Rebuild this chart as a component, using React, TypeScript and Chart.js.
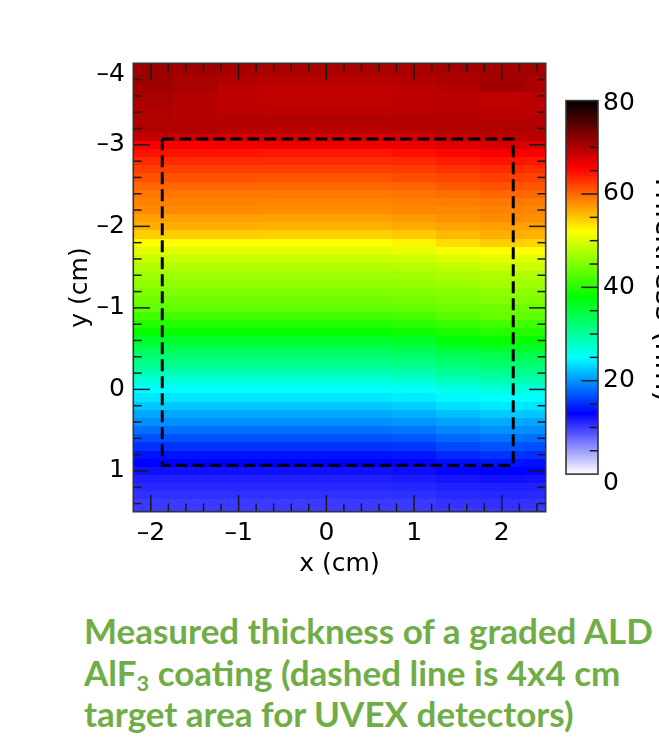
import React, { useEffect, useRef } from "react";
import { Chart, registerables } from "chart.js";

Chart.register(...registerables);

// ---------------- data ----------------
const xCenters = [-2, -1.5, -1, -0.5, 0, 0.5, 1, 1.5, 2, 2.5];
const yCenters = [
  -4.0, -3.9, -3.8, -3.7, -3.6, -3.5, -3.4, -3.3, -3.2, -3.1,
  -3.0, -2.9, -2.8, -2.7, -2.6, -2.5, -2.4, -2.3, -2.2, -2.1,
  -2.0, -1.9, -1.8, -1.7, -1.6, -1.5, -1.4, -1.3, -1.2, -1.1,
  -1.0, -0.9, -0.8, -0.7, -0.6, -0.5, -0.4, -0.3, -0.2, -0.1,
  0.0, 0.1, 0.2, 0.3, 0.4, 0.5, 0.6, 0.7, 0.8, 0.9,
  1.0, 1.1, 1.2, 1.3, 1.4, 1.5,
];
// thickness (nm), one row per yCenters entry, one column per xCenters entry
const thickness = [
  [71.0, 71.0, 70.6, 70.4, 70.4, 70.4, 70.4, 70.6, 70.6, 70.6],
  [71.0, 70.8, 70.4, 70.4, 70.4, 70.4, 70.3, 70.5, 70.6, 70.6],
  [71.0, 70.5, 69.8, 69.5, 69.5, 69.6, 69.8, 70.2, 70.8, 70.2],
  [70.8, 70.2, 69.3, 69.1, 69.1, 69.1, 69.3, 69.8, 70.8, 70.2],
  [70.5, 69.8, 69.1, 69.0, 69.0, 69.0, 69.2, 69.4, 69.2, 69.3],
  [70.2, 69.5, 69.1, 69.0, 69.0, 69.0, 69.2, 69.3, 69.0, 69.2],
  [70.0, 69.5, 69.4, 69.3, 69.3, 69.3, 69.4, 69.5, 69.3, 69.4],
  [70.0, 69.8, 69.8, 69.8, 69.8, 69.8, 69.8, 69.8, 69.6, 69.7],
  [70.0, 70.0, 69.6, 69.5, 69.5, 69.5, 69.6, 69.8, 69.8, 69.8],
  [69.0, 68.5, 68.3, 68.1, 68.1, 68.2, 68.4, 69.0, 69.3, 69.5],
  [65.8, 66.0, 66.3, 66.4, 66.4, 66.4, 66.6, 67.2, 67.8, 67.5],
  [64.6, 64.6, 64.5, 64.4, 64.4, 64.4, 64.7, 65.3, 65.9, 65.7],
  [63.3, 63.3, 63.3, 63.2, 63.2, 63.2, 63.5, 64.0, 64.5, 64.3],
  [62.2, 62.2, 62.2, 62.1, 62.1, 62.1, 62.4, 62.9, 63.3, 63.1],
  [61.2, 61.2, 61.2, 61.1, 61.1, 61.1, 61.4, 61.8, 62.2, 62.0],
  [60.1, 60.1, 60.1, 60.0, 60.0, 60.0, 60.3, 60.8, 61.2, 61.0],
  [59.2, 59.2, 59.2, 59.1, 59.1, 59.1, 59.4, 59.7, 60.1, 59.9],
  [58.6, 58.6, 58.6, 58.5, 58.5, 58.5, 58.8, 58.9, 59.2, 59.0],
  [58.2, 58.2, 58.2, 58.1, 58.1, 58.1, 58.4, 58.4, 58.6, 58.4],
  [57.1, 57.1, 57.1, 57.0, 57.0, 57.0, 57.3, 57.8, 58.2, 58.0],
  [56.3, 56.3, 56.3, 56.2, 56.2, 56.2, 56.5, 56.8, 57.1, 56.9],
  [54.6, 54.6, 54.6, 54.5, 54.5, 54.5, 54.8, 55.7, 56.3, 56.1],
  [52.0, 52.0, 52.0, 52.0, 52.0, 52.0, 52.6, 53.8, 54.6, 54.3],
  [50.3, 50.3, 50.3, 50.3, 50.3, 50.3, 50.7, 51.5, 52.1, 51.8],
  [49.0, 49.0, 49.0, 49.0, 49.0, 49.0, 49.3, 50.0, 50.4, 50.2],
  [47.7, 47.7, 47.7, 47.7, 47.7, 47.7, 48.0, 48.6, 49.1, 48.9],
  [46.8, 46.8, 46.8, 46.8, 46.8, 46.8, 47.0, 47.5, 47.8, 47.6],
  [45.9, 45.9, 45.9, 45.9, 45.9, 45.9, 46.1, 46.5, 46.9, 46.7],
  [45.0, 45.0, 45.0, 45.0, 45.0, 45.0, 45.2, 45.6, 46.0, 45.8],
  [44.1, 44.1, 44.1, 44.1, 44.1, 44.1, 44.3, 44.7, 45.1, 44.9],
  [43.3, 43.3, 43.3, 43.3, 43.3, 43.3, 43.5, 43.9, 44.2, 44.0],
  [41.5, 41.5, 41.5, 41.5, 41.5, 41.5, 41.8, 42.8, 43.4, 43.2],
  [40.0, 40.0, 40.0, 40.0, 40.0, 40.0, 40.3, 41.1, 41.6, 41.4],
  [38.3, 38.3, 38.3, 38.3, 38.3, 38.3, 38.6, 39.5, 40.1, 39.9],
  [35.8, 35.8, 35.8, 35.8, 35.8, 35.8, 36.2, 37.6, 38.4, 38.2],
  [33.8, 33.8, 33.8, 33.8, 33.8, 33.8, 34.1, 35.2, 35.9, 35.7],
  [32.2, 32.2, 32.2, 32.2, 32.2, 32.2, 32.5, 33.3, 33.9, 33.7],
  [30.6, 30.6, 30.6, 30.6, 30.6, 30.6, 30.9, 31.7, 32.3, 32.1],
  [28.8, 28.8, 28.8, 28.8, 28.8, 28.8, 29.1, 30.1, 30.7, 30.5],
  [26.8, 26.8, 26.8, 26.8, 26.8, 26.8, 27.1, 28.2, 28.9, 28.7],
  [25.0, 25.0, 25.0, 25.0, 25.0, 25.0, 25.3, 26.3, 26.9, 26.7],
  [23.9, 23.9, 23.9, 23.9, 23.9, 23.9, 24.1, 24.7, 25.1, 24.9],
  [22.4, 22.4, 22.4, 22.4, 22.4, 22.4, 22.7, 23.5, 24.0, 23.8],
  [20.9, 20.9, 20.9, 20.9, 20.9, 20.9, 21.2, 22.0, 22.5, 22.3],
  [19.8, 19.8, 19.8, 19.8, 19.8, 19.8, 20.0, 20.6, 21.0, 20.8],
  [18.3, 18.3, 18.3, 18.3, 18.3, 18.3, 18.6, 19.4, 19.9, 19.7],
  [16.8, 16.8, 16.8, 16.8, 16.8, 16.8, 17.1, 17.9, 18.4, 18.2],
  [15.3, 15.3, 15.3, 15.3, 15.3, 15.3, 15.6, 16.4, 16.9, 16.7],
  [13.8, 13.8, 13.8, 13.8, 13.8, 13.8, 14.1, 14.9, 15.4, 15.2],
  [13.0, 13.0, 13.0, 13.0, 13.0, 13.0, 13.2, 13.6, 13.9, 13.7],
  [12.2, 12.2, 12.2, 12.2, 12.2, 12.2, 12.4, 12.8, 13.0, 12.9],
  [11.4, 11.4, 11.4, 11.4, 11.4, 11.4, 11.6, 12.0, 12.2, 12.1],
  [11.0, 11.0, 11.0, 11.0, 11.0, 11.0, 11.1, 11.3, 11.4, 11.3],
  [10.5, 10.5, 10.5, 10.5, 10.5, 10.5, 10.6, 10.9, 11.0, 10.9],
  [10.0, 10.0, 10.0, 10.0, 10.0, 10.0, 10.1, 10.4, 10.5, 10.4],
  [10.0, 10.0, 10.0, 10.0, 10.0, 10.0, 10.0, 10.1, 10.2, 10.1],
];
const xTickValues = [-2, -1, 0, 1, 2];
const yTickValues = [-4, -3, -2, -1, 0, 1];
const cbarTickValues = [0, 20, 40, 60, 80];
const xRange = [-2.2, 2.5];
const yRange = [-4, 1.5];
const cbarRange = [0, 80];
const targetBoxX = [-1.87, 2.13];
const targetBoxY = [-3.07, 0.93];

// ---------------- style ----------------
const FONT = "'DejaVu Sans', sans-serif";
const TICK_SIZE = 25;
const CELL_W = 0.5;
const CELL_H = 0.1;
const X_MINOR = 0.2;
const Y_MINOR = 0.2;
const CB_MINOR = 5;
const MAJOR_LEN = 16.7;
const MINOR_LEN = 8.3;
const CANVAS_W = 690;
const CANVAS_H = 600;
const PLOT_TOP = 41.9;
const PLOT_LEFT = 133.3;
const PLOT_RIGHT = 545.7;
const PLOT_BOTTOM = 511.7;
const CB_GAP = 20.3;
const CB_W = 32;
const CB_TOP_PX = 81;
const CB_BOT_PX = 472.3;

const cmapStops: [number, number, number, number][] = [
  [0, 255, 255, 255],
  [13, 0, 0, 255],
  [25, 0, 255, 255],
  [38, 0, 255, 0],
  [52, 255, 255, 0],
  [65.5, 255, 0, 0],
  [80, 0, 0, 0],
];

function colorFor(v: number): string {
  const t = Math.max(cmapStops[0][0], Math.min(cmapStops[cmapStops.length - 1][0], v));
  for (let i = 0; i < cmapStops.length - 1; i++) {
    const a = cmapStops[i];
    const b = cmapStops[i + 1];
    if (t >= a[0] && t <= b[0]) {
      const f = (t - a[0]) / (b[0] - a[0]);
      const r = Math.round(a[1] + (b[1] - a[1]) * f);
      const g = Math.round(a[2] + (b[2] - a[2]) * f);
      const bl = Math.round(a[3] + (b[3] - a[3]) * f);
      return `rgb(${r},${g},${bl})`;
    }
  }
  return "rgb(0,0,0)";
}

function buildTicks(min: number, max: number, step: number) {
  const out: { value: number }[] = [];
  const i0 = Math.ceil(min / step - 1e-9);
  const i1 = Math.floor(max / step + 1e-9);
  for (let i = i0; i <= i1; i++) out.push({ value: Math.round(i * step * 1e6) / 1e6 });
  return out;
}

const fmt = (v: number) => (v < 0 ? "\u2013" + Math.abs(v) : String(v));

const heatmapPlugin = {
  id: "heatmap",
  beforeDatasetsDraw(chart: any) {
    const { ctx, chartArea: a, scales } = chart;
    const xs = scales.x;
    const ys = scales.y;
    ctx.save();
    ctx.beginPath();
    ctx.rect(a.left, a.top, a.right - a.left, a.bottom - a.top);
    ctx.clip();
    for (let r = 0; r < yCenters.length; r++) {
      const yA = Math.round(ys.getPixelForValue(yCenters[r] - CELL_H / 2));
      const yB = Math.round(ys.getPixelForValue(yCenters[r] + CELL_H / 2));
      for (let c = 0; c < xCenters.length; c++) {
        const xA = Math.round(xs.getPixelForValue(xCenters[c] - CELL_W / 2));
        const xB = Math.round(xs.getPixelForValue(xCenters[c] + CELL_W / 2));
        ctx.fillStyle = colorFor(thickness[r][c]);
        ctx.fillRect(Math.min(xA, xB), Math.min(yA, yB), Math.abs(xB - xA), Math.abs(yB - yA));
      }
    }
    ctx.restore();

    // colour bar
    const cb = scales.cbar;
    const left = a.right + CB_GAP;
    const top = cb.getPixelForValue(cbarRange[1]);
    const bot = cb.getPixelForValue(cbarRange[0]);
    ctx.save();
    ctx.beginPath();
    ctx.rect(left, top, CB_W, bot - top);
    ctx.clip();
    for (let py = Math.floor(top); py < Math.ceil(bot); py++) {
      ctx.fillStyle = colorFor(cb.getValueForPixel(py + 0.5));
      ctx.fillRect(left, py, CB_W, 1);
    }
    ctx.restore();
  },
};

const framePlugin = {
  id: "frame",
  afterDatasetsDraw(chart: any) {
    const { ctx, chartArea: a, scales } = chart;
    const line = (x1: number, y1: number, x2: number, y2: number) => {
      ctx.beginPath();
      ctx.moveTo(x1, y1);
      ctx.lineTo(x2, y2);
      ctx.stroke();
    };
    ctx.save();
    ctx.strokeStyle = "#1a1a1a";
    ctx.lineWidth = 1.5;
    for (const t of scales.x.ticks) {
      const px = scales.x.getPixelForValue(t.value);
      if (px < a.left + 1 || px > a.right - 1) continue;
      const len = xTickValues.includes(t.value) ? MAJOR_LEN : MINOR_LEN;
      line(px, a.bottom, px, a.bottom - len);
      line(px, a.top, px, a.top + len);
    }
    for (const t of scales.y.ticks) {
      const py = scales.y.getPixelForValue(t.value);
      if (py < a.top + 1 || py > a.bottom - 1) continue;
      const len = yTickValues.includes(t.value) ? MAJOR_LEN : MINOR_LEN;
      line(a.left, py, a.left + len, py);
      line(a.right, py, a.right - len, py);
    }
    const cb = scales.cbar;
    const cbLeft = a.right + CB_GAP;
    const cbRight = cbLeft + CB_W;
    const cbTop = cb.getPixelForValue(cbarRange[1]);
    const cbBot = cb.getPixelForValue(cbarRange[0]);
    for (const t of cb.ticks) {
      const py = cb.getPixelForValue(t.value);
      if (py < cbTop + 1 || py > cbBot - 1) continue;
      const len = cbarTickValues.includes(t.value) ? MAJOR_LEN : MINOR_LEN;
      line(cbRight, py, cbRight - len, py);
    }
    ctx.strokeStyle = "#333";
    ctx.lineWidth = 1.6;
    ctx.strokeRect(a.left, a.top, a.right - a.left, a.bottom - a.top);
    ctx.strokeRect(cbLeft, cbTop, CB_W, cbBot - cbTop);
    ctx.restore();
  },
};

export default function App() {
  const canvasRef = useRef<HTMLCanvasElement | null>(null);

  useEffect(() => {
    const canvas = canvasRef.current;
    if (!canvas) return;
    const cbUnit = (CB_BOT_PX - CB_TOP_PX) / (cbarRange[1] - cbarRange[0]);
    const cbMax = cbarRange[1] + (CB_TOP_PX - PLOT_TOP) / cbUnit;
    const cbMin = cbarRange[0] - (PLOT_BOTTOM - CB_BOT_PX) / cbUnit;

    const tickFont = (size: number, special: Record<string, number>) => (c: any) => {
      const v = c && c.tick ? c.tick.value : null;
      const lh = v !== null && special[String(v)] !== undefined ? special[String(v)] / size : 1.2;
      return { family: FONT, size, lineHeight: lh };
    };
    const half = (TICK_SIZE * 1.2) / 2;

    const chart = new Chart(canvas, {
      type: "scatter",
      data: {
        datasets: [
          {
            data: [
              { x: targetBoxX[0], y: targetBoxY[0] },
              { x: targetBoxX[1], y: targetBoxY[0] },
              { x: targetBoxX[1], y: targetBoxY[1] },
              { x: targetBoxX[0], y: targetBoxY[1] },
              { x: targetBoxX[0], y: targetBoxY[0] },
            ],
            showLine: true,
            borderColor: "#000",
            borderWidth: 3,
            borderDash: [12, 5],
            pointRadius: 0,
            pointHoverRadius: 0,
            fill: false,
            tension: 0,
            xAxisID: "x",
            yAxisID: "y",
          } as any,
        ],
      },
      options: {
        animation: false,
        responsive: false,
        maintainAspectRatio: false,
        events: [],
        layout: { padding: { top: PLOT_TOP, left: 0, right: 0, bottom: 0 } },
        plugins: { legend: { display: false }, tooltip: { enabled: false } },
        scales: {
          x: {
            type: "linear",
            position: "bottom",
            min: xRange[0],
            max: xRange[1],
            afterBuildTicks: (s: any) => {
              s.ticks = buildTicks(xRange[0], xRange[1], X_MINOR);
            },
            afterFit: (s: any) => {
              s.height = CANVAS_H - PLOT_BOTTOM;
            },
            grid: { display: false, drawTicks: false },
            border: { display: false },
            ticks: {
              autoSkip: false,
              maxRotation: 0,
              minRotation: 0,
              padding: 533 - PLOT_BOTTOM - half,
              color: "#000",
              font: { family: FONT, size: TICK_SIZE },
              callback: (v: any) => (xTickValues.includes(Number(v)) ? fmt(Number(v)) : ""),
            },
            title: {
              display: true,
              text: "x (cm)",
              color: "#000",
              font: { family: FONT, size: TICK_SIZE },
              padding: { top: 0, bottom: CANVAS_H - 564 - half },
            },
          },
          y: {
            type: "linear",
            position: "left",
            reverse: true,
            min: yRange[0],
            max: yRange[1],
            afterBuildTicks: (s: any) => {
              s.ticks = buildTicks(yRange[0], yRange[1], Y_MINOR);
            },
            afterFit: (s: any) => {
              s.width = PLOT_LEFT;
            },
            grid: { display: false, drawTicks: false },
            border: { display: false },
            ticks: {
              autoSkip: false,
              padding: 8.3,
              color: "#000",
              font: tickFont(TICK_SIZE, { "-4": 22 }) as any,
              callback: (v: any) => {
                const n = Number(v);
                if (!yTickValues.includes(n)) return "";
                return n === yRange[0] ? ["", fmt(n)] : fmt(n);
              },
            },
            title: {
              display: true,
              text: "y (cm)",
              color: "#000",
              font: { family: FONT, size: TICK_SIZE },
              padding: { top: 80 - half, bottom: 0 },
            },
          },
          cbar: {
            type: "linear",
            position: "right",
            axis: "y",
            min: cbMin,
            max: cbMax,
            afterBuildTicks: (s: any) => {
              s.ticks = buildTicks(cbarRange[0], cbarRange[1], CB_MINOR);
            },
            afterFit: (s: any) => {
              s.width = CANVAS_W - PLOT_RIGHT;
            },
            grid: { display: false, drawTicks: false },
            border: { display: false },
            ticks: {
              autoSkip: false,
              padding: 57.3,
              color: "#000",
              font: tickFont(TICK_SIZE, { "0": 18, "80": 6 }) as any,
              callback: (v: any) => {
                const n = Number(v);
                if (!cbarTickValues.includes(n)) return "";
                return n === cbarRange[0] || n === cbarRange[1] ? ["", fmt(n)] : fmt(n);
              },
            },
            title: {
              display: true,
              text: "Thickness (nm)",
              color: "#000",
              font: { family: FONT, size: 30 },
              padding: { top: 8.6, bottom: 0 },
            },
          } as any,
        },
      },
      plugins: [heatmapPlugin, framePlugin],
    } as any);

    return () => chart.destroy();
  }, []);

  return (
    <div
      style={{
        position: "absolute",
        left: 0,
        top: 0,
        width: 659,
        height: 739,
        overflow: "hidden",
        background: "#fff",
      }}
    >
      <canvas
        ref={canvasRef}
        width={CANVAS_W}
        height={CANVAS_H}
        style={{ position: "absolute", left: 0, top: 0, width: CANVAS_W, height: CANVAS_H }}
      />
      <div
        style={{
          position: "absolute",
          left: 84,
          top: 610,
          fontFamily: "Lato, 'Open Sans', sans-serif",
          fontWeight: 700,
          fontSize: 35,
          lineHeight: "41.5px",
          color: "#70AD47",
          whiteSpace: "nowrap",
        }}
      >
        Measured thickness of a graded ALD
        <br />
        AlF
        <sub style={{ fontSize: "0.62em", lineHeight: 0, verticalAlign: "-0.22em" }}>3</sub> coating (dashed line is 4x4 cm
        <br />
        target area for UVEX detectors)
      </div>
    </div>
  );
}
